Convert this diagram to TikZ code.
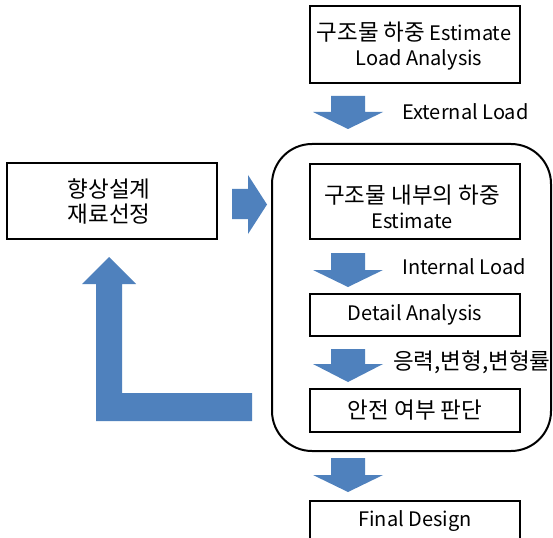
\documentclass[tikz,border=0pt]{standalone}
\usepackage{fontspec}
\setmainfont{Noto Sans CJK KR}
\definecolor{blk}{HTML}{4F81BD}
\newcommand\ko[1]{{\fontsize{22.5}{25}\selectfont #1}}
\newcommand\blkdown[4]{% x, body top, head top, tip
  \fill[blk] (#1-17,#2) -- (#1+17,#2) -- (#1+17,#3) -- (#1+35,#3) -- (#1,#4) -- (#1-35,#3) -- (#1-17,#3) -- cycle;}
\begin{document}
\begin{tikzpicture}[x=1pt,y=-1pt,
  box/.style={draw=black,line width=2pt,minimum width=210pt,inner sep=0pt,align=center,font=\fontsize{20}{25}\selectfont},
  lbl/.style={anchor=west,inner sep=0pt,font=\fontsize{20}{25}\selectfont}]
\clip (0,0) rectangle (553,537);
\fill[white] (0,0) rectangle (553,537);
% big rounded frame
\draw[line width=2pt,rounded corners=40pt] (272,144) rectangle (551,451);
% boxes
\node[box,minimum height=77pt] (top) at (415,44.5) {};
\node[inner sep=0pt,align=center,font=\fontsize{20}{24.5}\selectfont] (toptxt) at (414,46) {\ko{구조물 하중} Estimate\\\hspace*{10pt}Load Analysis};
\node[box,minimum height=76pt] (left) at (112,201) {};
\node[inner sep=0pt,align=center,font=\fontsize{20}{25}\selectfont] (lefttxt) at (109,201.5) {\ko{향상설계}\\\ko{재료선정}};
\node[box,minimum height=75pt] (inner) at (415,201.5) {};
\node[inner sep=0pt,align=center,font=\fontsize{20}{25}\selectfont] (innertxt) at (412,207) {\ko{구조물 내부의 하중}\\Estimate};
\node[box,minimum height=42pt] (detail) at (415,315) {Detail Analysis};
\node[box,minimum height=43pt] (safe) at (415,410.5) {\ko{안전 여부 판단}};
\node[box,minimum height=50pt,anchor=north] (final) at (415,500) {};
\node[inner sep=0pt,font=\fontsize{20}{25}\selectfont] (finaltxt) at (415,521) {Final Design};
% block arrows
\blkdown{348}{96}{112}{129}
\blkdown{348}{253}{270}{287}
\blkdown{348}{349}{364}{382}
\blkdown{348}{458}{475}{492}
\fill[blk] (232,189) -- (248,189) -- (248,175) -- (267,204.5) -- (248,234) -- (248,219) -- (232,219) -- cycle;
\fill[blk] (252,393) -- (122,393) -- (122,284) -- (136,284) -- (109,257) -- (82,284) -- (96,284) -- (96,421) -- (252,421) -- cycle;
% labels
\node[lbl] (ext) at (402,112) {External Load};
\node[lbl] (int) at (402,267) {Internal Load};
\node[lbl] (str) at (393,362) {\ko{응력,변형,변형률}};
\end{tikzpicture}
\end{document}
